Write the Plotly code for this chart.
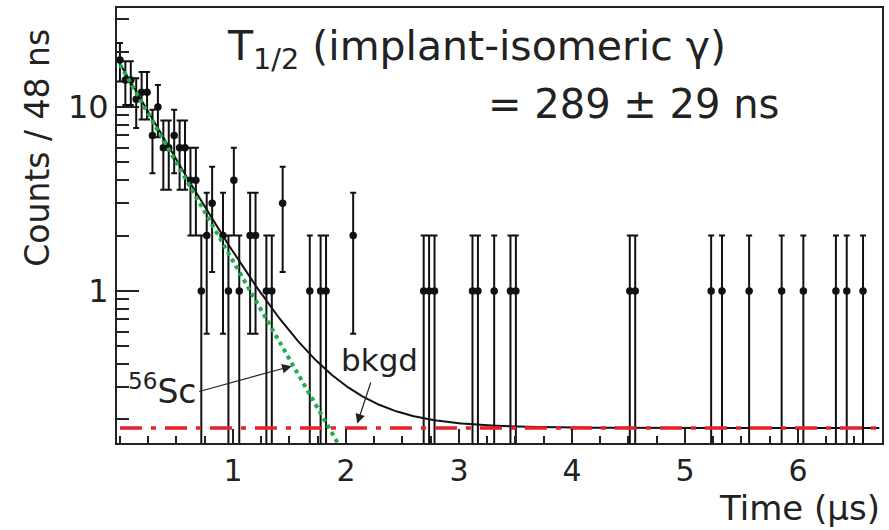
import numpy as np
import plotly.graph_objects as go

# ---- data (bin centres in microseconds, counts per 48 ns bin)
time_us = [0.000, 0.048, 0.096, 0.144, 0.192, 0.240, 0.288, 0.336, 0.384, 0.432,
           0.480, 0.528, 0.576, 0.624, 0.672, 0.720, 0.768, 0.816, 0.912, 0.960,
           1.008, 1.056, 1.152, 1.200, 1.296, 1.344, 1.440, 1.680, 1.776, 1.824,
           2.064, 2.688, 2.736, 2.784, 3.120, 3.168, 3.312, 3.456, 3.504, 4.512,
           4.560, 5.232, 5.328, 5.568, 5.856, 6.048, 6.336, 6.432, 6.576]
counts = [18, 14, 14, 11, 12, 12, 7, 10, 6, 6,
          7, 6, 6, 4, 4, 1, 2, 3, 2, 1,
          4, 1, 2, 2, 1, 1, 3, 1, 1, 1,
          2, 1, 1, 1, 1, 1, 1, 1, 1, 1,
          1, 1, 1, 1, 1, 1, 1, 1, 1]

# ---- fit parameters
fit_amplitude = 17.0      # counts at t = 0
fit_halflife_us = 0.282   # drawn slope of the 56Sc component
background = 0.18         # flat background level
fit_t_end = 6.72

x_range = [-0.026, 6.744]
y_range_log = [np.log10(0.149), np.log10(34.5)]

x_tick_vals = [1, 2, 3, 4, 5, 6]
y_tick_vals = [1, 10]
y_minor_vals = [0.2, 0.3, 0.4, 0.5, 0.6, 0.7, 0.8, 0.9,
                2, 3, 4, 5, 6, 7, 8, 9, 20, 30]

FONT = "DejaVu Sans"
INK = "#222222"

lam = np.log(2) / fit_halflife_us
t_fit = np.linspace(0, fit_t_end, 600)
sc_component = fit_amplitude * np.exp(-lam * t_fit)
total_fit = sc_component + background
t_sc = t_fit[sc_component > 0.12]
sc_only = sc_component[sc_component > 0.12]

err = np.sqrt(np.array(counts, dtype=float))

fig = go.Figure()
fig.add_trace(go.Scatter(
    x=time_us, y=counts, mode="markers",
    marker=dict(color="#111111", size=7.5, symbol="circle"),
    error_y=dict(type="data", array=err, visible=True, color="#111111",
                 thickness=2, width=3),
    showlegend=False))
fig.add_trace(go.Scatter(
    x=t_fit, y=total_fit, mode="lines",
    line=dict(color="#111111", width=2), showlegend=False))
fig.add_trace(go.Scatter(
    x=[0, fit_t_end], y=[background, background], mode="lines",
    line=dict(color="#e8202a", width=3.5, dash="22px,9px,5px,9px"),
    showlegend=False))
fig.add_trace(go.Scatter(
    x=t_sc, y=sc_only, mode="lines",
    line=dict(color="#1fae4b", width=4, dash="dot"), showlegend=False))

fig.update_layout(
    width=889, height=530,
    margin=dict(l=117, r=5, t=8, b=87),
    paper_bgcolor="white", plot_bgcolor="white",
    font=dict(family=FONT, color=INK, size=30),
    xaxis=dict(
        range=x_range, showgrid=False, zeroline=False,
        showline=True, linecolor=INK, linewidth=2, mirror=True,
        ticks="inside", ticklen=14, tickwidth=2, tickcolor=INK,
        tickmode="array", tickvals=x_tick_vals,
        tickfont=dict(family=FONT, size=30, color=INK),
        minor=dict(dtick=0.25, tick0=0, ticks="inside", ticklen=7,
                   tickwidth=2, tickcolor=INK, showgrid=False),
    ),
    yaxis=dict(
        type="log", range=y_range_log, showgrid=False, zeroline=False,
        showline=True, linecolor=INK, linewidth=2, mirror=True,
        ticks="inside", ticklen=22, tickwidth=2, tickcolor=INK,
        tickmode="array", tickvals=y_tick_vals, ticktext=["1", "10"],
        tickfont=dict(family=FONT, size=32, color=INK),
        minor=dict(tickmode="array", tickvals=y_minor_vals, ticks="inside",
                   ticklen=12, tickwidth=2, tickcolor=INK, showgrid=False),
    ),
    annotations=[
        dict(text="Counts / 48 ns", xref="paper", yref="paper",
             x=-0.105, y=0.678, textangle=-90, showarrow=False,
             xanchor="center", yanchor="middle",
             font=dict(family=FONT, size=33, color=INK)),
        dict(text="Time (μs)", xref="paper", yref="paper",
             x=1.0, y=-0.2, showarrow=False, xanchor="right", yanchor="bottom",
             font=dict(family=FONT, size=34, color=INK)),
        dict(text="T<sub>1/2</sub> (implant-isomeric γ)", xref="paper", yref="paper",
             x=0.1408, y=0.905, showarrow=False, xanchor="left", yanchor="middle",
             font=dict(family=FONT, size=41, color=INK)),
        dict(text="= 289 ± 29 ns", xref="paper", yref="paper",
             x=0.4824, y=0.779, showarrow=False, xanchor="left", yanchor="middle",
             font=dict(family=FONT, size=40, color=INK)),
        dict(text="<sup>56</sup>Sc", xref="x", yref="y",
             x=0.688, y=np.log10(0.29), showarrow=False, xanchor="right",
             yanchor="middle", font=dict(family=FONT, size=33, color=INK)),
        dict(text="", xref="x", yref="y", axref="x", ayref="y",
             x=1.52, y=np.log10(0.39), ax=0.688, ay=np.log10(0.2825),
             showarrow=True, arrowhead=2, arrowsize=1.6, arrowwidth=1.2,
             arrowcolor=INK),
        dict(text="bkgd", xref="x", yref="y",
             x=2.295, y=np.log10(0.42), showarrow=False, xanchor="center",
             yanchor="middle", font=dict(family=FONT, size=31, color=INK)),
        dict(text="", xref="x", yref="y", axref="x", ayref="y",
             x=2.10, y=np.log10(0.19), ax=2.224, ay=np.log10(0.324),
             showarrow=True, arrowhead=2, arrowsize=1.6, arrowwidth=1.2,
             arrowcolor=INK),
    ],
)

fig.write_html("out.html")
